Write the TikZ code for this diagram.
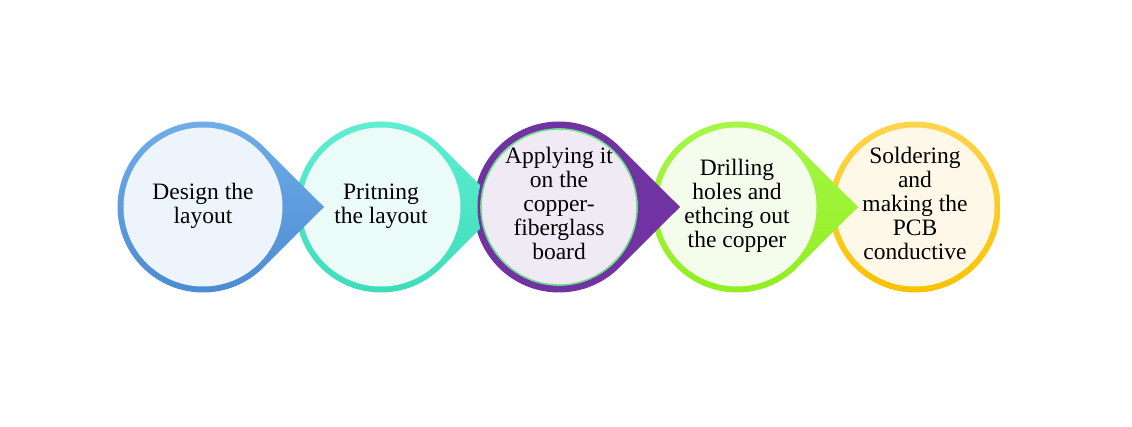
\documentclass[tikz,border=0pt]{standalone}
\usepackage{fontspec}
\setmainfont{Liberation Serif}
\usetikzlibrary{positioning,calc,backgrounds}
\definecolor{designtop}{HTML}{72AEE9}
\definecolor{designbot}{HTML}{4A8AD2}
\definecolor{designin}{HTML}{EEF4FC}
\definecolor{printtop}{HTML}{60EFD3}
\definecolor{printbot}{HTML}{3CDCB8}
\definecolor{printin}{HTML}{EAFBF8}
\definecolor{applyring}{HTML}{7233A2}
\definecolor{applyline}{HTML}{6EE08C}
\definecolor{applyin}{HTML}{F0EAF5}
\definecolor{drilltop}{HTML}{A8F74A}
\definecolor{drillbot}{HTML}{90EE1E}
\definecolor{drillin}{HTML}{F4FDEC}
\definecolor{soldertop}{HTML}{FFD54C}
\definecolor{solderbot}{HTML}{FBC200}
\definecolor{solderin}{HTML}{FEF8E8}
\tikzset{
  steptext/.style={align=center,inner sep=0pt,
    font=\fontsize{23.5}{24}\selectfont,
    execute at begin node=\strut,execute at end node=\strut},
}
\begin{document}
\begin{tikzpicture}[x=1pt,y=1pt,on grid,node distance=178pt]
\useasboundingbox (0,0) rectangle (1132,426);
\node[steptext] (design) at (203,219) {Design the\\layout};
\node[steptext,right=of design] (print) {Pritning\\the layout};
\node[steptext,right=of print] (apply) {Applying it\\on the\\copper-\\fiberglass\\board};
\node[steptext,right=of apply] (drill) {Drilling\\holes and\\ethcing out\\the copper};
\node[steptext,right=of drill] (solder) {Soldering\\and\\making the\\PCB\\conductive};
\begin{scope}[on background layer]
% last step, no point
\shade[top color=soldertop,bottom color=solderbot] (solder) circle (85.5);
\fill[solderin] (solder) circle (79.5);
% the other steps point to the next one
\foreach \n/\a/\b/\f in {drill/drilltop/drillbot/drillin,
    apply/applyring/applyring/applyin,
    print/printtop/printbot/printin,
    design/designtop/designbot/designin} {
  \shade[top color=\a,bottom color=\b] ($(\n)+(121,0)$) -- ($(\n)+(45:85.5)$)
    arc[start angle=45,end angle=315,radius=85.5] -- cycle;
  \fill[\f] (\n) circle (79.5);
}
\draw[applyring,line width=3] (apply) circle (80);
\draw[applyline,fill=applyin,line width=1.6] (apply) circle (78);
\end{scope}
\end{tikzpicture}
\end{document}
